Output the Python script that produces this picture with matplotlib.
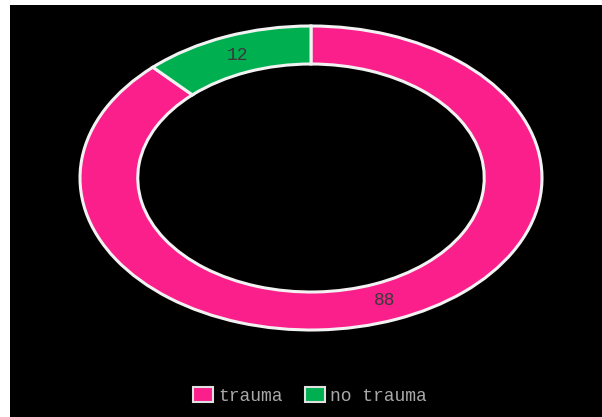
import matplotlib.pyplot as plt
from matplotlib.patches import Patch

labels = ["trauma", "no trauma"]
values = [88, 12]
colors = ["#fb1f8c", "#00b050"]

fig = plt.figure(figsize=(6.02, 4.17), dpi=100)
fig.patch.set_facecolor("white")

# black panel (image is cropped, white strip left and top)
bg = fig.add_axes([10 / 602, 0, 592 / 602, 412 / 417])
bg.set_facecolor("black")
bg.set_xticks([])
bg.set_yticks([])
for s in bg.spines.values():
    s.set_visible(False)

ax = fig.add_axes([80 / 602, 87 / 417, 462 / 602, 304 / 417])
ax.patch.set_alpha(0)
wedges, texts = ax.pie(values, colors=colors, startangle=90, counterclock=False,
                       radius=1.0,
                       wedgeprops=dict(width=0.25, edgecolor="#f2f2f2", linewidth=2.2),
                       labels=[str(v) for v in values], labeldistance=0.87,
                       textprops=dict(color="#3a3a3a", fontsize=13,
                                      family="Liberation Mono", ha="center", va="center"))
ax.set_aspect("auto")
ax.set_xlim(-1, 1)
ax.set_ylim(-1, 1)

handles = [Patch(facecolor=c, edgecolor="#e0e0e0", linewidth=1.5) for c in colors]
fig.legend(handles, labels, loc="center", bbox_to_anchor=(310 / 602, 21 / 417),
           ncol=2, frameon=False, handlelength=1.1, handleheight=0.9,
           handletextpad=0.3, columnspacing=1.2,
           prop=dict(family="Liberation Mono", size=13), labelcolor="#a8a8a8")

fig.savefig("out.png", dpi=100, facecolor=fig.get_facecolor())
